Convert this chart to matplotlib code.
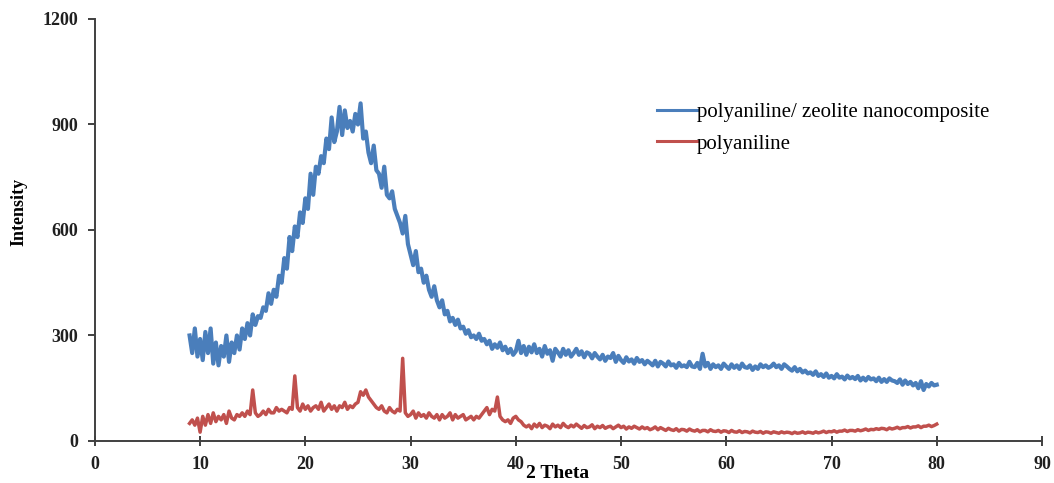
import numpy as np
import matplotlib
matplotlib.use("Agg")
import matplotlib.pyplot as plt

# 2 theta scan grid (degrees), one reading every 0.25 deg
two_theta = np.round(np.arange(9.0, 80.001, 0.25), 2)

# polyaniline / zeolite nanocomposite
composite = [
    300, 250, 320, 240,  290, 230, 310, 250,  320, 220, 280, 215,  270, 240, 300, 225,
    280, 250, 300, 260,  320, 290, 335, 300,  360, 330, 355, 350,  380, 370, 420, 390,
    430, 410, 470, 450,  520, 490, 580, 540,  610, 580, 650, 620,  690, 660, 760, 700,
    780, 760, 810, 790,  860, 830, 920, 850,  880, 950, 870, 940,  890, 910, 880, 930,
    900, 960, 860, 880,  820, 790, 840, 770,  760, 720, 780, 700,  690, 710, 660, 640,
    620, 590, 640, 560,  530, 500, 540, 480,  490, 450, 470, 430,  410, 440, 400, 380,
    400, 360, 370, 340,  350, 330, 345, 320,  325, 305, 315, 295,  300, 290, 305, 285,
    290, 275, 285, 262,  275, 265, 280, 258,  268, 250, 262, 245,  255, 285, 250, 270,
    245, 268, 252, 275,  250, 262, 240, 270,  248, 258, 228, 262,  252, 240, 262, 245,
    258, 240, 250, 262,  245, 255, 238, 252,  248, 235, 250, 240,  232, 245, 228, 240,
    236, 250, 225, 242,  230, 222, 238, 226,  232, 220, 236, 225,  230, 218, 228, 222,
    215, 228, 212, 225,  220, 212, 226, 215,  218, 208, 222, 212,  215, 210, 225, 212,
    210, 222, 205, 248,  212, 222, 205, 218,  210, 215, 205, 220,  212, 205, 218, 208,
    215, 205, 220, 210,  208, 215, 202, 212,  205, 218, 210, 215,  208, 212, 220, 210,
    215, 205, 218, 212,  205, 200, 210, 198,  205, 195, 200, 192,  195, 188, 198, 185,
    190, 182, 192, 180,  185, 178, 190, 180,  183, 175, 186, 178,  182, 176, 185, 172,
    180, 172, 182, 175,  178, 170, 180, 168,  176, 168, 178, 172,  170, 165, 175, 160,
    172, 162, 168, 158,  165, 150, 170, 145,  162, 155, 165, 158,  160,
]

# pure polyaniline
pani = [
    50, 60, 45, 65,  25, 70, 45, 75,  50, 80, 55, 70,  60, 75, 50, 85,
    65, 60, 75, 70,  80, 70, 85, 75,  145, 80, 70, 75,  85, 75, 90, 80,
    80, 95, 85, 90,  85, 80, 95, 90,  185, 95, 85, 105,  90, 100, 85, 95,
    100, 90, 110, 85,  95, 105, 90, 100,  85, 100, 95, 110,  90, 100, 95, 105,
    110, 140, 130, 145,  125, 115, 105, 95,  90, 100, 85, 80,  95, 85, 80, 90,
    85, 235, 80, 70,  75, 85, 65, 80,  70, 75, 65, 80,  70, 65, 75, 60,
    75, 65, 70, 80,  60, 75, 65, 70,  75, 60, 65, 70,  60, 70, 65, 75,
    85, 95, 75, 90,  85, 125, 70, 60,  55, 60, 50, 65,  70, 60, 55, 45,
    40, 45, 35, 48,  40, 50, 38, 45,  42, 35, 48, 40,  45, 38, 50, 42,
    38, 45, 40, 48,  42, 36, 44, 38,  40, 46, 35, 42,  38, 44, 36, 40,
    42, 35, 40, 45,  38, 42, 34, 40,  36, 42, 38, 34,  40, 35, 38, 32,
    35, 40, 32, 38,  34, 30, 36, 32,  30, 35, 28, 33,  32, 28, 34, 30,
    28, 32, 26, 30,  30, 26, 32, 28,  27, 30, 25, 29,  28, 24, 30, 26,
    25, 29, 24, 27,  26, 23, 28, 25,  24, 27, 22, 26,  25, 22, 26, 24,
    22, 26, 23, 25,  24, 21, 25, 22,  23, 26, 22, 25,  24, 22, 26, 23,
    25, 28, 24, 27,  26, 29, 25, 28,  28, 31, 27, 30,  30, 28, 32, 29,
    31, 34, 30, 33,  32, 35, 33, 36,  35, 32, 37, 34,  36, 39, 35, 38,
    38, 41, 37, 40,  40, 43, 38, 42,  42, 45, 41, 44,  48,
]

x_ticks = [0, 10, 20, 30, 40, 50, 60, 70, 80, 90]
y_ticks = [0, 300, 600, 900, 1200]

plt.rcParams['font.family'] = ['Liberation Serif', 'DejaVu Serif']

fig = plt.figure(figsize=(10.54, 4.83), dpi=100)
ax = fig.add_axes([0.090, 0.087, 0.8986, 0.8737])

ax.plot(two_theta, composite, color='#4a7ebb', lw=3.0, label='polyaniline/ zeolite nanocomposite')
ax.plot(two_theta, pani, color='#c0504d', lw=2.5, label='polyaniline')

ax.set_xlim(0, 90)
ax.set_ylim(0, 1200)
ax.set_xticks(x_ticks)
ax.set_yticks(y_ticks)
for lab in ax.get_xticklabels() + ax.get_yticklabels():
    lab.set_fontweight('bold')
    lab.set_fontsize(13)

ax.spines['top'].set_visible(False)
ax.spines['right'].set_visible(False)
for s in ['left', 'bottom']:
    ax.spines[s].set_linewidth(1.4)
    ax.spines[s].set_color('#404040')
ax.tick_params(axis='x', direction='inout', length=7, width=1.2, pad=7, colors='#202020')
ax.tick_params(axis='y', direction='out', length=5, width=1.2, pad=7, colors='#202020')

ax.set_ylabel('Intensity', fontsize=13, fontweight='bold')
ax.yaxis.set_label_coords(-0.071, 0.543)
ax.set_xlabel('2 Theta', fontsize=14, fontweight='bold')
ax.xaxis.set_label_coords(0.489, -0.057)

leg = ax.legend(loc='upper left', bbox_to_anchor=(0.6233, 0.787), bbox_transform=fig.transFigure,
                frameon=False, fontsize=15, borderpad=0, borderaxespad=0,
                handlelength=1.9, handletextpad=0.0, labelspacing=0.55)
for ln in leg.get_lines():
    ln.set_linewidth(2.2)

fig.savefig('out.png', dpi=100)
